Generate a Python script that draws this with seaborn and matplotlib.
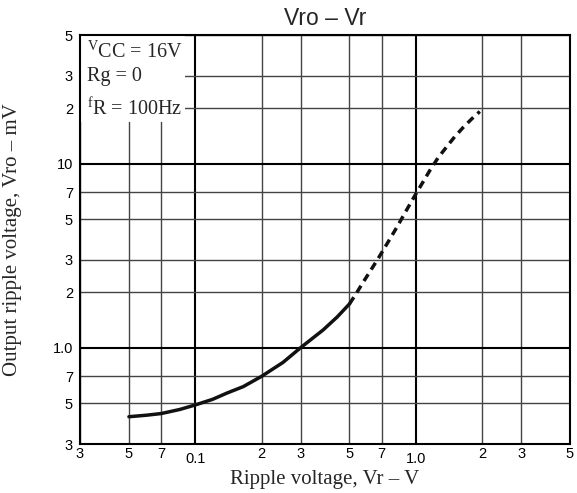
import numpy as np
import pandas as pd
import seaborn as sns
import matplotlib
matplotlib.use("Agg")
import matplotlib.pyplot as plt
from matplotlib.patches import Rectangle
from matplotlib.transforms import ScaledTranslation

# ---- data ----
solid_x = [0.05, 0.06, 0.07, 0.085, 0.1, 0.12, 0.139, 0.165, 0.2, 0.25, 0.3,
           0.38, 0.44, 0.5]
solid_y = [0.422, 0.43, 0.439, 0.462, 0.489, 0.525, 0.567, 0.615, 0.7, 0.833,
           1.0, 1.25, 1.47, 1.73]
dash_x = [0.5, 0.535, 0.577, 0.63, 0.68, 0.75, 0.817, 0.9, 1.0, 1.07, 1.155,
          1.26, 1.376, 1.5, 1.636, 1.8, 1.95]
dash_y = [1.73, 1.96, 2.27, 2.68, 3.1, 3.77, 4.48, 5.5, 6.85, 7.84, 9.15,
          10.75, 12.3, 14.0, 15.7, 17.6, 19.2]

x_ticks = [0.03, 0.05, 0.07, 0.1, 0.2, 0.3, 0.5, 0.7, 1.0, 2, 3, 5]
x_labels = ["3", "5", "7", "0.1", "2", "3", "5", "7", "1.0", "2", "3", "5"]
y_ticks = [0.3, 0.5, 0.7, 1.0, 2, 3, 5, 7, 10, 20, 30, 50]
y_labels = ["3", "5", "7", "1.0", "2", "3", "5", "7", "10", "2", "3", "5"]
major_x = [0.1, 1.0]
major_y = [1.0, 10]

sns.set_style("white")
plt.rcParams['font.family'] = ['Liberation Sans', 'DejaVu Sans']

fig = plt.figure(figsize=(5.77, 4.93), dpi=100)
ax = fig.add_axes([80/577, 1 - 444/493, 490/577, 409/493])

ax.set_xscale("log")
ax.set_yscale("log")
ax.set_xlim(0.03, 5)
ax.set_ylim(0.3, 50)

df_s = pd.DataFrame({"x": solid_x, "y": solid_y})
df_d = pd.DataFrame({"x": dash_x, "y": dash_y})
sns.lineplot(data=df_s, x="x", y="y", ax=ax, color="#111111", lw=2.5,
             sort=False, zorder=5, solid_joinstyle="round")
sns.lineplot(data=df_d, x="x", y="y", ax=ax, color="#111111", lw=2.5,
             sort=False, zorder=5, linestyle=(0, (2.3, 1.6)))

ax.set_xticks(x_ticks)
ax.set_xticklabels(x_labels)
ax.set_yticks(y_ticks)
ax.set_yticklabels(y_labels)
ax.minorticks_off()
ax.tick_params(axis="both", which="major", length=4, width=1, direction="inout",
               labelsize=10.5, colors="black")
ax.tick_params(axis="x", pad=0)
ax.tick_params(axis="y", pad=3)

ax.set_axisbelow(True)
ax.grid(True, which="major", color="#444444", lw=1.0)
for gl, v in zip(ax.get_xgridlines(), x_ticks):
    if v in major_x:
        gl.set_color("black"); gl.set_linewidth(1.5)
for gl, v in zip(ax.get_ygridlines(), y_ticks):
    if v in major_y:
        gl.set_color("black"); gl.set_linewidth(1.5)

# shift 0.1 and 1.0 labels slightly down
for lab, v in zip(ax.get_xticklabels(), x_ticks):
    if v in major_x:
        lab.set_transform(lab.get_transform() +
                          ScaledTranslation(0, -3.5/72, fig.dpi_scale_trans))

for sp in ax.spines.values():
    sp.set_color("black")
    sp.set_linewidth(1.5)

# white box behind the conditions text
ax.add_patch(Rectangle((0, 1 - 87/409), 105/490, 87/409,
                       transform=ax.transAxes, facecolor="white",
                       edgecolor="none", zorder=1))
serif = ['Liberation Serif', 'DejaVu Serif']
plt.rcParams['mathtext.fontset'] = 'custom'
plt.rcParams['mathtext.rm'] = 'Liberation Serif'
ax.text(87/577, 1 - 52/493, r"$\mathregular{^{V}CC}$ = 16V", transform=fig.transFigure,
        family=serif, fontsize=14.5, va="center", ha="left", zorder=6)
ax.text(87/577, 1 - 77/493, "Rg = 0", transform=fig.transFigure,
        family=serif, fontsize=14.5, va="center", ha="left", zorder=6)
ax.text(87/577, 1 - 110/493, r"$\mathregular{^{f}R}$ = 100Hz", transform=fig.transFigure,
        family=serif, fontsize=14.5, va="center", ha="left", zorder=6)

ax.set_xlabel("Ripple voltage, Vr – V", family=serif, fontsize=15)
ax.set_ylabel("Output ripple voltage, Vro – mV", family=serif, fontsize=15)
ax.xaxis.set_label_coords(0.5, -(470 - 444) / 409)
ax.xaxis.label.set_va("top")
ax.yaxis.set_label_coords((22 - 80) / 490, 0.5)
ax.set_title("Vro – Vr", fontsize=16.5, pad=7)

fig.savefig("out.png", dpi=100)
